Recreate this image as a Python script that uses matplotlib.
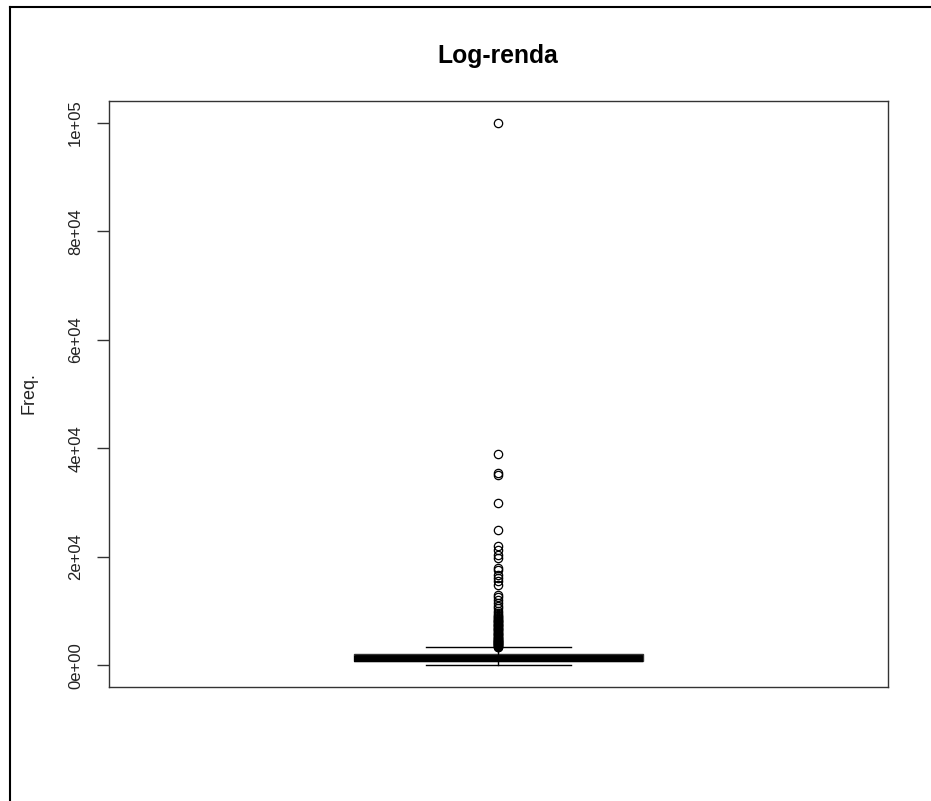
import matplotlib
matplotlib.use("Agg")
import matplotlib.pyplot as plt
from matplotlib.lines import Line2D

plt.rcParams['font.family'] = ['Liberation Sans', 'DejaVu Sans']

# estatisticas do boxplot
q1 = 750
mediana = 1200
q3 = 2000
bigode_inf = 0
bigode_sup = 3300

# outliers (valores estimados)
outliers = [
    3350, 3450, 3550, 3650, 3750, 3850, 3950, 4050, 4150, 4250, 4350, 4450,
    4550, 4650, 4750, 4850, 4950, 5100, 5250, 5400, 5550, 5700, 5850, 6000,
    6150, 6300, 6450, 6600, 6750, 6900, 7050, 7200, 7350, 7500, 7650, 7800,
    7950, 8100, 8250, 8400, 8550, 8700, 8850, 9000, 9300, 9600, 10000, 10500,
    11000, 11500, 12000, 12500, 13000, 14800, 15500, 16000, 16600, 17500, 18000,
    19800, 20300, 21300, 22000, 25000, 30000, 35000, 35500, 39000, 100000,
]

yticks = [0, 20000, 40000, 60000, 80000, 100000]
ytick_labels = ["0e+00", "2e+04", "4e+04", "6e+04", "8e+04", "1e+05"]

W, H = 931, 801
fig = plt.figure(figsize=(W / 100, H / 100), dpi=100)
ax = fig.add_axes([109 / W, 1 - 687 / H, (888 - 109) / W, (687 - 101) / H])

stats = [dict(med=mediana, q1=q1, q3=q3, whislo=bigode_inf, whishi=bigode_sup,
              fliers=outliers)]
ax.bxp(stats, positions=[1], widths=0.4, capwidths=0.2, patch_artist=True,
       boxprops=dict(facecolor="black", edgecolor="#333333", linewidth=1),
       medianprops=dict(color="black", linewidth=4.5, solid_capstyle="butt"),
       whiskerprops=dict(color="black", linewidth=1),
       capprops=dict(color="black", linewidth=1),
       flierprops=dict(marker="o", markerfacecolor="none", markeredgecolor="black",
                       markersize=6, markeredgewidth=0.9))

ax.set_xlim(0.46, 1.54)
ax.set_ylim(-4000, 104000)
ax.set_xticks([])
ax.set_yticks(yticks)
ax.set_yticklabels(ytick_labels, rotation=90, va="center", fontsize=12, color="#222222")
ax.tick_params(axis="y", length=8.6, width=1, pad=10, color="#333333")
for s in ax.spines.values():
    s.set_color("#333333")
    s.set_linewidth(1)

fig.text(497.5 / W, 1 - 56 / H, "Log-renda", ha="center", va="center",
         fontsize=17.8, fontweight="bold", color="black")
fig.text(29 / W, 1 - 393 / H, "Freq.", ha="center", va="center", rotation=90,
         fontsize=13, color="#222222")

# moldura externa da captura
fig.add_artist(Line2D([10 / W, 10 / W], [0, 1 - 7 / H], color="black", linewidth=1.5,
                      transform=fig.transFigure))
fig.add_artist(Line2D([10 / W, 1], [1 - 7 / H, 1 - 7 / H], color="black", linewidth=1.5,
                      transform=fig.transFigure))

fig.savefig("out.png", dpi=100)
plt.close(fig)
